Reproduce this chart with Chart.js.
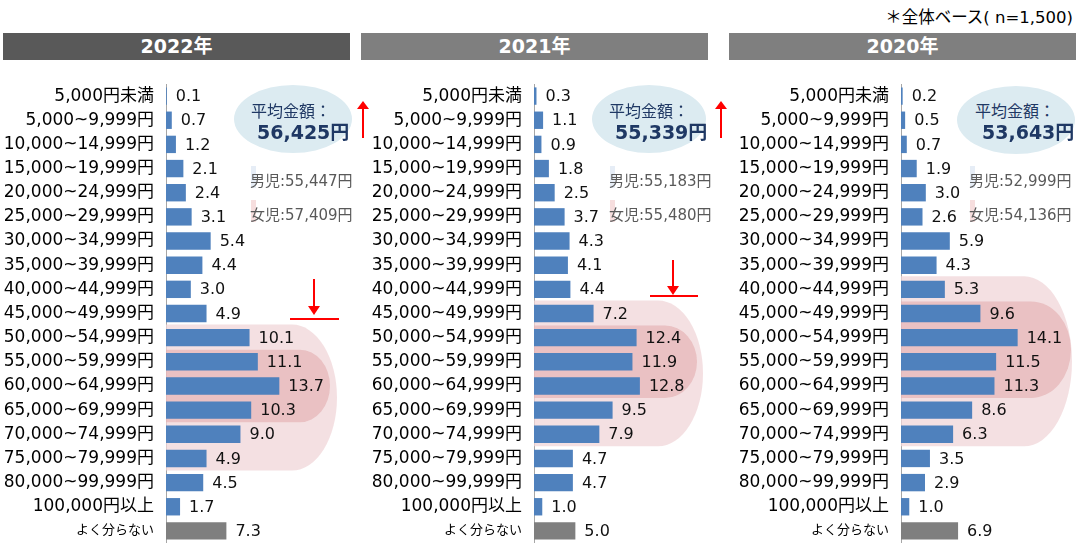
<!DOCTYPE html>
<html>
<head>
<meta charset="utf-8">
<script src="https://cdn.jsdelivr.net/npm/chart.js@4.4.0/dist/chart.umd.min.js"></script>
<style>
  body { margin: 0; background: #fff; font-family: "DejaVu Sans", "Noto Sans CJK JP", sans-serif; }
  #page { position: relative; width: 1089px; height: 556px; overflow: hidden; }
  canvas { position: absolute; top: 84px; }
  .header { position: absolute; top: 33px; height: 27px; line-height: 27px; color: #fff;
    font-weight: bold; font-size: 19px; text-align: center; }
  .note { position: absolute; top: 4px; right: 16px; font-size: 16.5px; color: #000; }
  .bubble { position: absolute; border-radius: 50%; background: #DCEBF1; }
  .avgLabel { position: absolute; font-size: 16px; color: #1F3864; white-space: nowrap; }
  .avgValue { position: absolute; font-size: 19px; font-weight: bold; color: #1F3864; white-space: nowrap; }
  .sub { position: absolute; font-size: 15px; color: #595959; white-space: nowrap; }
  .mark { position: absolute; width: 5px; height: 22px; }
  svg { position: absolute; left: 0; top: 0; }
</style>
</head>
<body>
<div id="page">
  <div class="note">＊全体ベース( n=1,500)</div>
  <canvas id="c0" width="348" height="459" style="left:0px"></canvas>
  <canvas id="c1" width="348" height="459" style="left:368px"></canvas>
  <canvas id="c2" width="348" height="459" style="left:735px"></canvas>
  <svg width="1089" height="556" id="arrows"></svg>
</div>
<script>
const categories = ['5,000円未満', '5,000~9,999円', '10,000~14,999円', '15,000~19,999円', '20,000~24,999円',
  '25,000~29,999円', '30,000~34,999円', '35,000~39,999円', '40,000~44,999円', '45,000~49,999円',
  '50,000~54,999円', '55,000~59,999円', '60,000~64,999円', '65,000~69,999円', '70,000~74,999円',
  '75,000~79,999円', '80,000~99,999円', '100,000円以上', 'よく分らない'];
const years = ['2022年', '2021年', '2020年'];
const values2022 = [0.1, 0.7, 1.2, 2.1, 2.4, 3.1, 5.4, 4.4, 3.0, 4.9, 10.1, 11.1, 13.7, 10.3, 9.0, 4.9, 4.5, 1.7, 7.3];
const values2021 = [0.3, 1.1, 0.9, 1.8, 2.5, 3.7, 4.3, 4.1, 4.4, 7.2, 12.4, 11.9, 12.8, 9.5, 7.9, 4.7, 4.7, 1.0, 5.0];
const values2020 = [0.2, 0.5, 0.7, 1.9, 3.0, 2.6, 5.9, 4.3, 5.3, 9.6, 14.1, 11.5, 11.3, 8.6, 6.3, 3.5, 2.9, 1.0, 6.9];
const averages = ['56,425円', '55,339円', '53,643円'];
const boys = ['55,447円', '55,183円', '52,999円'];
const girls = ['57,409円', '55,480円', '54,136円'];
// highlighted rows (first, last category index)
const outerRows = [[10, 15], [9, 14], [8, 14]];
const innerRows = [[11, 13], [10, 12], [9, 12]];

const allValues = [values2022, values2021, values2020];
const FONT = '"DejaVu Sans", "Noto Sans CJK JP", sans-serif';

// layout of the overlay pieces for each panel
const layout = [
  { header: [3, 347, '#595959'], bubble: [234, 85, 118, 68], avg: [251, 98, 257, 117], sub: 250,
    outer: [337, 45], inner: [330, 30] },
  { header: [361, 347, '#7F7F7F'], bubble: [592, 85, 114, 68], avg: [609, 98, 615, 117], sub: 609,
    outer: [335, 45], inner: [329, 32] },
  { header: [729, 347, '#7F7F7F'], bubble: [957, 86, 118, 68], avg: [975, 98, 982, 117], sub: 969,
    outer: [337, 48], inner: [336, 40] }
];

const page = document.getElementById('page');

function addDiv(cls, text, style) {
  const d = document.createElement('div');
  d.className = cls;
  d.textContent = text;
  Object.assign(d.style, style);
  page.appendChild(d);
  return d;
}

layout.forEach((l, i) => {
  addDiv('header', years[i], { left: l.header[0] + 'px', width: l.header[1] + 'px', background: l.header[2] });
  addDiv('bubble', '', { left: l.bubble[0] + 'px', top: l.bubble[1] + 'px', width: l.bubble[2] + 'px', height: l.bubble[3] + 'px', zIndex: 2 });
  addDiv('avgLabel', '平均金額：', { left: l.avg[0] + 'px', top: l.avg[1] + 'px', zIndex: 3 });
  addDiv('avgValue', averages[i], { left: l.avg[2] + 'px', top: l.avg[3] + 'px', zIndex: 3 });
  addDiv('mark', '', { left: (l.sub + 1) + 'px', top: '166px', background: '#E6EDF6', zIndex: 2 });
  addDiv('mark', '', { left: (l.sub + 1) + 'px', top: '200px', background: '#F6DEDE', zIndex: 2 });
  addDiv('sub', '男児:' + boys[i], { left: l.sub + 'px', top: '169px', zIndex: 3 });
  addDiv('sub', '女児:' + girls[i], { left: l.sub + 'px', top: '203px', zIndex: 3 });
});

// red arrows
document.getElementById('arrows').innerHTML = `
  <g stroke="#FF0000" stroke-width="2" fill="#FF0000">
    <line x1="363" y1="138" x2="363" y2="106"/><polygon points="357,109 369,109 363,101" stroke="none"/>
    <line x1="721" y1="138" x2="721" y2="106"/><polygon points="715,109 727,109 721,101" stroke="none"/>
    <line x1="314" y1="279" x2="314" y2="309"/><polygon points="308,306 320,306 314,315" stroke="none"/>
    <line x1="290" y1="319" x2="339" y2="319"/>
    <line x1="673" y1="260" x2="673" y2="288"/><polygon points="667,286 679,286 673,295" stroke="none"/>
    <line x1="650" y1="296" x2="698" y2="296"/>
  </g>`;
document.getElementById('arrows').style.zIndex = 4;

function stadium(ctx, left, top, bottom, right, rx, color) {
  const mid = (top + bottom) / 2;
  const ry = (bottom - top) / 2;
  const cx = right - rx;
  ctx.beginPath();
  ctx.moveTo(left, top);
  ctx.lineTo(cx, top);
  ctx.ellipse(cx, mid, rx, ry, 0, -Math.PI / 2, Math.PI / 2);
  ctx.lineTo(left, bottom);
  ctx.closePath();
  ctx.fillStyle = color;
  ctx.fill();
}

const highlightPlugin = {
  id: 'highlight',
  beforeDatasetsDraw(chart, args, opts) {
    const y = chart.scales.y;
    const half = (y.getPixelForValue(1) - y.getPixelForValue(0)) / 2;
    const left = chart.chartArea.left;
    const ctx = chart.ctx;
    ctx.save();
    stadium(ctx, left, y.getPixelForValue(opts.outer[0]) - half - 1, y.getPixelForValue(opts.outer[1]) + half,
      opts.outerShape[0], opts.outerShape[1], 'rgba(240, 214, 216, 0.75)');
    stadium(ctx, left, y.getPixelForValue(opts.inner[0]) - half, y.getPixelForValue(opts.inner[1]) + half,
      opts.innerShape[0], opts.innerShape[1], 'rgba(226, 172, 174, 0.6)');
    ctx.restore();
  }
};

const valueLabels = {
  id: 'valueLabels',
  afterDatasetsDraw(chart) {
    const ctx = chart.ctx;
    const meta = chart.getDatasetMeta(0);
    const data = chart.data.datasets[0].data;
    ctx.save();
    ctx.font = '16px ' + FONT;
    ctx.fillStyle = '#111';
    ctx.textBaseline = 'middle';
    meta.data.forEach((bar, i) => {
      ctx.fillText(data[i].toFixed(1), bar.x + 9, bar.y + 1);
    });
    ctx.restore();
  }
};

allValues.forEach((values, i) => {
  new Chart(document.getElementById('c' + i), {
    type: 'bar',
    data: {
      labels: categories,
      datasets: [{
        data: values,
        backgroundColor: values.map((v, k) => k === categories.length - 1 ? '#7F7F7F' : '#4F81BD'),
        barPercentage: 0.72,
        categoryPercentage: 1
      }]
    },
    options: {
      indexAxis: 'y',
      responsive: false,
      animation: false,
      layout: { padding: 0 },
      plugins: {
        legend: { display: false },
        tooltip: { enabled: false },
        highlight: {
          outer: outerRows[i], inner: innerRows[i],
          outerShape: layout[i].outer, innerShape: layout[i].inner
        }
      },
      scales: {
        x: { display: false, min: 0, max: 22 },
        y: {
          afterFit: (scale) => {
            scale.width = 166;
            scale.paddingTop = 0;
            scale.paddingBottom = 0;
          },
          grid: { display: false, drawTicks: false },
          border: { display: true, color: '#A6A6A6', width: 1 },
          ticks: {
            autoSkip: false,
            padding: 12,
            color: '#000',
            font: (ctx) => ({ family: FONT, size: ctx.index === categories.length - 1 ? 13 : 17 })
          }
        }
      }
    },
    plugins: [highlightPlugin, valueLabels]
  });
});
</script>
</body>
</html>
